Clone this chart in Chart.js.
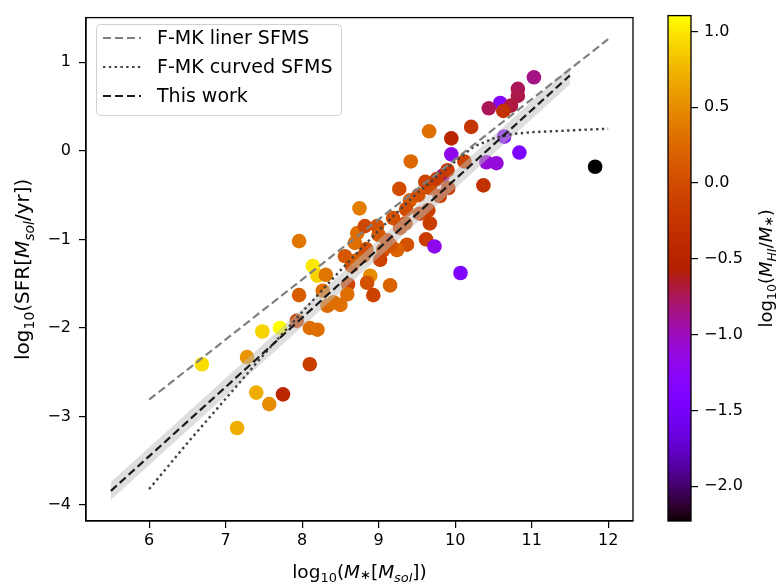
<!DOCTYPE html>
<html>
<head>
<meta charset="utf-8">
<script src="https://cdn.jsdelivr.net/npm/chart.js@4.4.1/dist/chart.umd.min.js"></script>
<style>
  body { margin: 0; background: #fff; }
  #wrap { position: relative; width: 778px; height: 588px; }
  canvas { position: absolute; top: 0; }
  #main { left: 0; }
  #cbar { left: 650px; }
</style>
</head>
<body>
<div id="wrap">
  <canvas id="main" width="650" height="588"></canvas>
  <canvas id="cbar" width="128" height="588"></canvas>
</div>
<script>
// galaxies: stellar mass, SFR, HI fraction (colour)
const massX = [11.03, 10.82, 10.82, 10.59, 10.73, 10.44, 10.63, 10.21, 9.66, 9.95,
  10.64, 10.84, 9.95, 9.42, 10.41, 10.54, 10.12, 9.84, 9.90, 10.37,
  9.27, 9.67, 9.91, 9.41, 9.80, 9.52, 9.19, 9.65, 9.67, 9.35,
  9.62, 9.73, 9.37, 9.24, 11.83, 10.07, 7.96, 8.14, 8.20, 8.31,
  7.96, 8.27, 8.33, 8.41, 8.56, 8.65, 8.60, 8.59, 8.69, 8.72,
  8.82, 8.98, 8.80, 8.89, 8.85, 8.93, 9.06, 9.02, 9.15, 9.15,
  9.11, 7.93, 8.10, 8.20, 7.71, 7.48, 6.69, 7.28, 7.40, 7.57,
  7.75, 8.10, 7.15, 8.75, 8.50, 9.61, 9.76, 9.36, 9.54, 9.00,
  8.84, 8.70, 9.28];
const sfrY = [0.83, 0.70, 0.62, 0.54, 0.51, 0.48, 0.45, 0.27, 0.22, 0.14,
  0.16, -0.02, -0.04, -0.12, -0.13, -0.14, -0.12, -0.28, -0.22, -0.39,
  -0.43, -0.42, -0.42, -0.56, -0.51, -0.50, -0.76, -0.67, -0.82, -0.82,
  -1.00, -1.08, -1.06, -1.12, -0.18, -1.38, -1.02, -1.30, -1.41, -1.40,
  -1.63, -1.58, -1.75, -1.71, -1.19, -1.30, -1.51, -1.62, -1.04, -0.93,
  -0.85, -0.85, -1.19, -1.41, -1.49, -1.63, -1.12, -1.23, -1.06, -1.52,
  -1.01, -1.92, -2.00, -2.02, -2.00, -2.04, -2.41, -2.33, -2.73, -2.86,
  -2.75, -2.41, -3.13, -0.65, -1.74, -0.35, -0.32, -0.66, -0.71, -0.95,
  -1.11, -1.24, -0.87];
const hiFrac = [-0.85, -0.75, -0.72, -1.35, -0.70, -0.75, -0.30, -0.25, 0.30, -0.50,
  -1.35, -1.40, -1.20, 0.25, -1.10, -1.10, -0.10, -0.80, -0.20, -0.30,
  0.00, 0.00, -0.20, 0.15, -0.15, 0.05, 0.05, -0.15, -0.15, 0.00,
  -0.15, -1.20, 0.05, 0.20, -2.23, -1.40, 0.35, 1.00, 0.90, 0.35,
  0.15, 0.30, 0.25, 0.30, 0.10, 0.05, -0.10, 0.30, 0.30, 0.30,
  -0.05, 0.05, 0.05, 0.50, 0.05, -0.10, 0.05, -0.10, 0.05, 0.20,
  -0.10, -0.15, 0.30, 0.30, 1.10, 0.90, 0.95, 0.55, 0.70, 0.50,
  -0.45, -0.15, 0.70, 0.40, 0.30, -0.10, -0.20, 0.00, -0.10, 0.10,
  0.05, 0.15, -0.05];

// F-MK linear SFMS
const linX = [6, 12];
const linY = [-2.81, 1.26];
// F-MK curved SFMS
const curvX = [6.0, 6.5, 7.0, 7.5, 8.0, 8.5, 9.0, 9.5, 10.0, 10.25, 10.5, 10.75, 11.0, 11.5, 12.0];
const curvY = [-3.82, -3.30, -2.80, -2.30, -1.82, -1.35, -0.90, -0.48, -0.12, 0.05, 0.14, 0.19, 0.21, 0.23, 0.25];
// this work fit + uncertainty band
const fitX = [5.5, 11.5];
const fitY = [-3.84, 0.85];
const bandLo = [-3.94, 0.75];
const bandHi = [-3.74, 0.95];

const xTicks = [6, 7, 8, 9, 10, 11, 12];
const yTicks = [-4, -3, -2, -1, 0, 1];
const cbTicks = [-2.0, -1.5, -1.0, -0.5, 0.0, 0.5, 1.0];
const cMin = -2.23, cMax = 1.105;

const FONT = '"DejaVu Sans", sans-serif';

function gnuplot(t) {
    t = Math.max(0, Math.min(1, t));
    const r = Math.sqrt(t);
    const g = t * t * t;
    const b = Math.max(0, Math.sin(2 * Math.PI * t));
    return `rgb(${Math.round(r * 255)},${Math.round(g * 255)},${Math.round(b * 255)})`;
}
const colorFor = v => gnuplot((v - cMin) / (cMax - cMin));

const fmt = v => (v < 0 ? '\u2212' : '') + Math.abs(v);
const pts = (xs, ys) => xs.map((x, i) => ({ x: x, y: ys[i] }));

// text with sub-scripts / italics
function drawRich(ctx, parts, x, y, rotate, size) {
    ctx.save();
    ctx.translate(x, y);
    if (rotate) ctx.rotate(-Math.PI / 2);
    ctx.fillStyle = '#000';
    ctx.textBaseline = 'alphabetic';
    ctx.textAlign = 'left';
    const fontOf = p => (p.it ? 'italic ' : '') + (p.sub ? size * 0.7 : size) + 'px ' + FONT;
    let total = 0;
    parts.forEach(p => { ctx.font = fontOf(p); p.w = ctx.measureText(p.t).width; total += p.w; });
    let cx = -total / 2;
    const base = size * 0.36;
    parts.forEach(p => {
        ctx.font = fontOf(p);
        ctx.fillText(p.t, cx, base + (p.sub ? size * (p.dy || 0.22) : 0));
        cx += p.w;
    });
    ctx.restore();
}

const frameAndLabels = {
    id: 'frameAndLabels',
    afterDraw(chart) {
        const ctx = chart.ctx;
        const a = chart.chartArea;
        ctx.save();
        ctx.strokeStyle = '#000';
        ctx.lineWidth = 1.3;
        ctx.strokeRect(a.left, a.top, a.right - a.left, a.bottom - a.top);

        // legend
        const lx = 96, ly = 24, lw = 245, lh = 91;
        ctx.beginPath();
        ctx.roundRect(lx + 0.5, ly + 0.5, lw, lh, 4);
        ctx.fillStyle = 'rgba(255,255,255,0.8)';
        ctx.fill();
        ctx.strokeStyle = '#d0d0d0';
        ctx.lineWidth = 1;
        ctx.stroke();
        const items = [
            { label: 'F-MK liner SFMS', color: '#808080', dash: [8, 4] },
            { label: 'F-MK curved SFMS', color: '#404040', dash: [2.4, 3.4] },
            { label: 'This work', color: '#1a1a1a', dash: [8, 4] }
        ];
        items.forEach((it, i) => {
            const yy = 38 + i * 29;
            ctx.beginPath();
            ctx.setLineDash(it.dash);
            ctx.strokeStyle = it.color;
            ctx.lineWidth = 2.2;
            ctx.moveTo(103, yy);
            ctx.lineTo(141, yy);
            ctx.stroke();
            ctx.setLineDash([]);
            ctx.fillStyle = '#000';
            ctx.font = '19px ' + FONT;
            ctx.textBaseline = 'middle';
            ctx.fillText(it.label, 157, yy + 1);
        });
        ctx.restore();

        drawRich(ctx, [
            { t: 'log' }, { t: '10', sub: 1 }, { t: '(' }, { t: 'M', it: 1 }, { t: '\u2217', sub: 1, dy: 0.05 },
            { t: '[' }, { t: 'M', it: 1 }, { t: 'sol', it: 1, sub: 1 }, { t: '])' }
        ], (a.left + a.right) / 2, 571, false, 18.5);
        drawRich(ctx, [
            { t: 'log' }, { t: '10', sub: 1 }, { t: '(SFR[' }, { t: 'M', it: 1 }, { t: 'sol', it: 1, sub: 1 },
            { t: '/yr])' }
        ], 22, (a.top + a.bottom) / 2, true, 20);
    }
};

new Chart(document.getElementById('main'), {
    type: 'scatter',
    data: {
        datasets: [
            {
                label: 'This work',
                data: pts(fitX, fitY),
                showLine: true, pointRadius: 0,
                borderColor: '#1a1a1a', borderWidth: 2.2, borderDash: [8, 4],
                order: 1
            },
            {
                label: 'F-MK liner SFMS',
                data: pts(linX, linY),
                showLine: true, pointRadius: 0,
                borderColor: '#808080', borderWidth: 2.2, borderDash: [8, 4],
                order: 2
            },
            {
                label: 'F-MK curved SFMS',
                data: pts(curvX, curvY),
                showLine: true, pointRadius: 0,
                borderColor: '#404040', borderWidth: 2.4, borderDash: [2.4, 3.4],
                order: 2
            },
            {
                label: 'band low',
                data: pts(fitX, bandLo),
                showLine: true, pointRadius: 0, borderWidth: 0,
                borderColor: 'rgba(0,0,0,0)',
                order: 4
            },
            {
                label: 'band high',
                data: pts(fitX, bandHi),
                showLine: true, pointRadius: 0, borderWidth: 0,
                borderColor: 'rgba(0,0,0,0)',
                backgroundColor: 'rgba(190,190,190,0.5)',
                fill: '-1',
                order: 3
            },
            {
                label: 'galaxies',
                data: pts(massX, sfrY),
                pointRadius: 7.3, pointHoverRadius: 7.3, borderWidth: 0,
                backgroundColor: ctx => colorFor(hiFrac[ctx.dataIndex]),
                order: 5
            }
        ]
    },
    options: {
        responsive: false,
        animation: false,
        devicePixelRatio: 1,
        layout: { padding: { left: 0, top: 14, right: 17, bottom: 0 } },
        plugins: { legend: { display: false }, tooltip: { enabled: false } },
        scales: {
            x: {
                type: 'linear', min: 5.175, max: 12.325,
                afterBuildTicks: s => { s.ticks = xTicks.map(v => ({ value: v })); },
                afterFit: s => { s.height = 67; },
                grid: { drawOnChartArea: false, drawTicks: true, tickLength: 7, color: '#000', lineWidth: 1.2 },
                border: { display: true, color: '#000', width: 1.3 },
                ticks: { color: '#000', font: { family: FONT, size: 16 }, padding: 3, maxRotation: 0, callback: v => fmt(v) }
            },
            y: {
                type: 'linear', min: -4.18, max: 1.504,
                afterBuildTicks: s => { s.ticks = yTicks.map(v => ({ value: v })); },
                afterFit: s => { s.width = 86; },
                grid: { drawOnChartArea: false, drawTicks: true, tickLength: 7, color: '#000', lineWidth: 1.2 },
                border: { display: true, color: '#000', width: 1.3 },
                ticks: { color: '#000', font: { family: FONT, size: 16 }, padding: 8, callback: v => fmt(v) }
            }
        }
    },
    plugins: [frameAndLabels]
});

const colorbarPaint = {
    id: 'colorbarPaint',
    beforeDatasetsDraw(chart) {
        const ctx = chart.ctx;
        const a = chart.chartArea;
        const ys = chart.scales.y;
        ctx.save();
        for (let py = Math.floor(a.top); py < a.bottom; py++) {
            ctx.fillStyle = colorFor(ys.getValueForPixel(py + 0.5));
            ctx.fillRect(a.left, py, a.right - a.left, 1);
        }
        ctx.strokeStyle = '#000';
        ctx.lineWidth = 1.3;
        ctx.strokeRect(a.left, a.top, a.right - a.left, a.bottom - a.top);
        ctx.restore();
        drawRich(ctx, [
            { t: 'log' }, { t: '10', sub: 1 }, { t: '(' }, { t: 'M', it: 1 }, { t: 'HI', it: 1, sub: 1 },
            { t: '/' }, { t: 'M', it: 1 }, { t: '\u2217', sub: 1, dy: 0.05 }, { t: ')' }
        ], 116, (a.top + a.bottom) / 2, true, 18);
    }
};

new Chart(document.getElementById('cbar'), {
    type: 'scatter',
    data: { datasets: [{ data: [] }] },
    options: {
        responsive: false,
        animation: false,
        devicePixelRatio: 1,
        layout: { padding: { left: 18, top: 14, right: 0, bottom: 67 } },
        plugins: { legend: { display: false }, tooltip: { enabled: false } },
        scales: {
            x: { display: false, min: 0, max: 1 },
            y: {
                position: 'right', type: 'linear', min: cMin, max: cMax,
                afterBuildTicks: s => { s.ticks = cbTicks.map(v => ({ value: v })); },
                afterFit: s => { s.width = 87; },
                grid: { drawOnChartArea: false, drawTicks: true, tickLength: 7, color: '#000', lineWidth: 1.2 },
                border: { display: false },
                ticks: { color: '#000', font: { family: FONT, size: 16 }, padding: 6,
                    callback: v => (v < 0 ? '\u2212' : '') + Math.abs(v).toFixed(1) }
            }
        }
    },
    plugins: [colorbarPaint]
});
</script>
</body>
</html>
